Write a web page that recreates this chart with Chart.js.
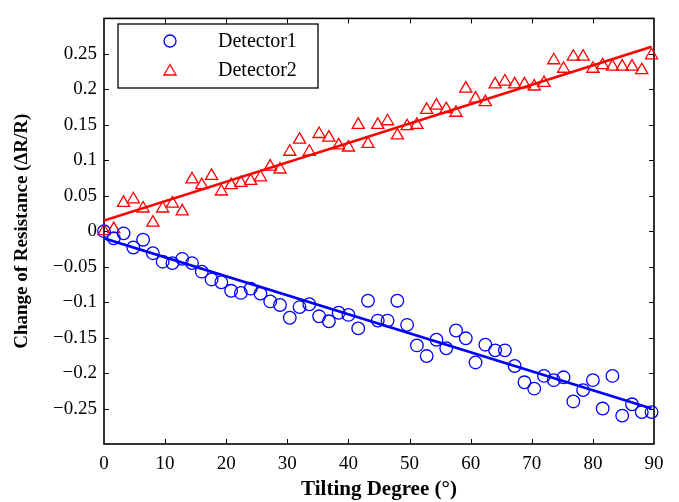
<!DOCTYPE html>
<html>
<head>
<meta charset="utf-8">
<script src="https://cdn.jsdelivr.net/npm/chart.js@4.4.1/dist/chart.umd.min.js"></script>
<style>
  html, body { margin: 0; padding: 0; background: #fff; }
  #wrap { width: 679px; height: 502px; }
</style>
</head>
<body>
<div id="wrap"><canvas id="c" width="679" height="502"></canvas></div>
<script>
// Tilting degree of each measurement
const degrees = [0, 1.6, 3.2, 4.8, 6.4, 8.0, 9.6, 11.2, 12.8, 14.4, 16.0, 17.6, 19.2, 20.8, 22.4, 24.0,
  25.6, 27.2, 28.8, 30.4, 32.0, 33.6, 35.2, 36.8, 38.4, 40.0, 41.6, 43.2, 44.8, 46.4, 48.0, 49.6,
  51.2, 52.8, 54.4, 56.0, 57.6, 59.2, 60.8, 62.4, 64.0, 65.6, 67.2, 68.8, 70.4, 72.0, 73.6, 75.2,
  76.8, 78.4, 80.0, 81.6, 83.2, 84.8, 86.4, 88.0, 89.6];

const detector1 = [0, -0.010, -0.003, -0.023, -0.012, -0.031, -0.043, -0.045, -0.039, -0.045,
  -0.057, -0.068, -0.072, -0.084, -0.087, -0.081, -0.088, -0.099, -0.104, -0.122,
  -0.107, -0.103, -0.120, -0.127, -0.115, -0.118, -0.137, -0.098, -0.126, -0.126,
  -0.098, -0.132, -0.161, -0.176, -0.153, -0.165, -0.140, -0.151, -0.185, -0.160,
  -0.168, -0.168, -0.190, -0.213, -0.222, -0.204, -0.210, -0.206, -0.240, -0.224,
  -0.210, -0.250, -0.204, -0.260, -0.244, -0.255, -0.255];

const detector2 = [0, 0.003, 0.040, 0.045, 0.032, 0.012, 0.032, 0.039, 0.028, 0.073,
  0.065, 0.078, 0.056, 0.065, 0.068, 0.071, 0.076, 0.091, 0.087, 0.112,
  0.129, 0.112, 0.137, 0.132, 0.121, 0.118, 0.150, 0.123, 0.150, 0.155,
  0.135, 0.148, 0.150, 0.171, 0.177, 0.172, 0.167, 0.201, 0.187, 0.182,
  0.207, 0.211, 0.207, 0.207, 0.204, 0.209, 0.241, 0.229, 0.246, 0.246,
  0.229, 0.234, 0.232, 0.232, 0.232, 0.227, 0.248];

// Linear fit lines (end points)
const fitX = [0, 89.6];
const fit1 = [-0.010, -0.250];
const fit2 = [0.015, 0.260];

const seriesNames = ['Detector1', 'Detector2'];
const xTicks = [0, 10, 20, 30, 40, 50, 60, 70, 80, 90];
const yTicks = [-0.25, -0.2, -0.15, -0.1, -0.05, 0, 0.05, 0.1, 0.15, 0.2, 0.25];

const BLUE = '#0000ff', RED = '#ff0000';
const FONT = "'Liberation Serif', 'Times New Roman', serif";

const pts = (xs, ys) => xs.map((x, i) => ({x: x, y: ys[i]}));

function fmt(v) {
  const r = Math.round(v * 100) / 100;
  if (Math.abs(r) < 1e-9) return '0';
  return String(r).replace('-', '\u2212');
}

const framePlugin = {
  id: 'frameTicks',
  beforeDatasetsDraw(chart) {
    const {ctx, chartArea: a, scales: {x, y}} = chart;
    ctx.save();
    ctx.strokeStyle = '#000';
    ctx.lineWidth = 1;
    ctx.beginPath();
    xTicks.forEach(v => {
      if (v <= 0 || v >= 90) return;
      const px = Math.round(x.getPixelForValue(v)) + 0.5;
      ctx.moveTo(px, a.bottom); ctx.lineTo(px, a.bottom - 5);
      ctx.moveTo(px, a.top); ctx.lineTo(px, a.top + 5);
    });
    yTicks.forEach(v => {
      const py = Math.round(y.getPixelForValue(v)) + 0.5;
      ctx.moveTo(a.left, py); ctx.lineTo(a.left + 5, py);
      ctx.moveTo(a.right, py); ctx.lineTo(a.right - 5, py);
    });
    ctx.stroke();
    ctx.lineWidth = 1.6;
    ctx.strokeRect(a.left, a.top, a.right - a.left, a.bottom - a.top);
    ctx.restore();
  },
  afterDatasetsDraw(chart) {
    const {ctx} = chart;
    ctx.save();
    // legend box
    ctx.fillStyle = '#fff';
    ctx.fillRect(118, 24, 200, 64);
    ctx.strokeStyle = '#000';
    ctx.lineWidth = 1.3;
    ctx.strokeRect(118, 24, 200, 64);
    // circle marker
    ctx.strokeStyle = BLUE;
    ctx.lineWidth = 1.3;
    ctx.beginPath();
    ctx.arc(170, 41, 6, 0, Math.PI * 2);
    ctx.stroke();
    // triangle marker
    const r = 7, cx = 170, cy = 71.5;
    ctx.strokeStyle = RED;
    ctx.beginPath();
    ctx.moveTo(cx, cy - r);
    ctx.lineTo(cx - r * Math.sin(Math.PI / 3), cy + r / 2);
    ctx.lineTo(cx + r * Math.sin(Math.PI / 3), cy + r / 2);
    ctx.closePath();
    ctx.stroke();
    // texts
    ctx.fillStyle = '#000';
    ctx.font = "20px " + FONT;
    ctx.textBaseline = 'middle';
    ctx.textAlign = 'left';
    ctx.fillText(seriesNames[0], 218, 42);
    ctx.fillText(seriesNames[1], 218, 71);
    ctx.restore();
  }
};

new Chart(document.getElementById('c'), {
  type: 'scatter',
  data: {
    datasets: [
      {
        label: seriesNames[0],
        data: pts(degrees, detector1),
        showLine: false,
        pointStyle: 'circle',
        pointRadius: 6.3,
        pointBorderWidth: 1.3,
        pointBorderColor: BLUE,
        pointBackgroundColor: 'rgba(0,0,0,0)',
        clip: false
      },
      {
        label: seriesNames[1],
        data: pts(degrees, detector2),
        showLine: false,
        pointStyle: 'triangle',
        pointRadius: 7,
        pointBorderWidth: 1.3,
        pointBorderColor: RED,
        pointBackgroundColor: 'rgba(0,0,0,0)',
        clip: false
      },
      {
        label: 'fit1',
        type: 'line',
        data: pts(fitX, fit1),
        borderColor: BLUE,
        borderWidth: 2.6,
        pointRadius: 0,
        fill: false
      },
      {
        label: 'fit2',
        type: 'line',
        data: pts(fitX, fit2),
        borderColor: RED,
        borderWidth: 2.6,
        pointRadius: 0,
        fill: false
      }
    ]
  },
  options: {
    responsive: false,
    animation: false,
    events: [],
    layout: { padding: { left: 0, right: 25, top: 10, bottom: 0 } },
    plugins: { legend: { display: false }, tooltip: { enabled: false } },
    scales: {
      x: {
        type: 'linear',
        min: 0, max: 90,
        afterBuildTicks: s => { s.ticks = xTicks.map(v => ({value: v})); },
        afterFit: s => { s.height = 58; },
        grid: { display: false, drawTicks: false },
        border: { display: false },
        ticks: { padding: 9, color: '#000', font: { family: FONT, size: 19 }, maxRotation: 0, autoSkip: false,
                 callback: v => String(v) },
        title: { display: true, text: 'Tilting Degree (\u00b0)', color: '#000',
                 font: { family: FONT, size: 21, weight: 'bold' }, padding: { top: 0, bottom: 0 } }
      },
      y: {
        type: 'linear',
        min: -0.3, max: 0.3,
        afterBuildTicks: s => { s.ticks = yTicks.map(v => ({value: v})); },
        afterFit: s => { s.width = 104; },
        grid: { display: false, drawTicks: false },
        border: { display: false },
        ticks: { padding: 7, color: '#000', font: { family: FONT, size: 19 }, autoSkip: false,
                 callback: v => fmt(v) },
        title: { display: true, text: 'Change of Resistance (\u0394R/R)', color: '#000',
                 font: { family: FONT, size: 19, weight: 'bold' }, padding: { top: 11, bottom: 0 } }
      }
    }
  },
  plugins: [framePlugin]
});
</script>
</body>
</html>
